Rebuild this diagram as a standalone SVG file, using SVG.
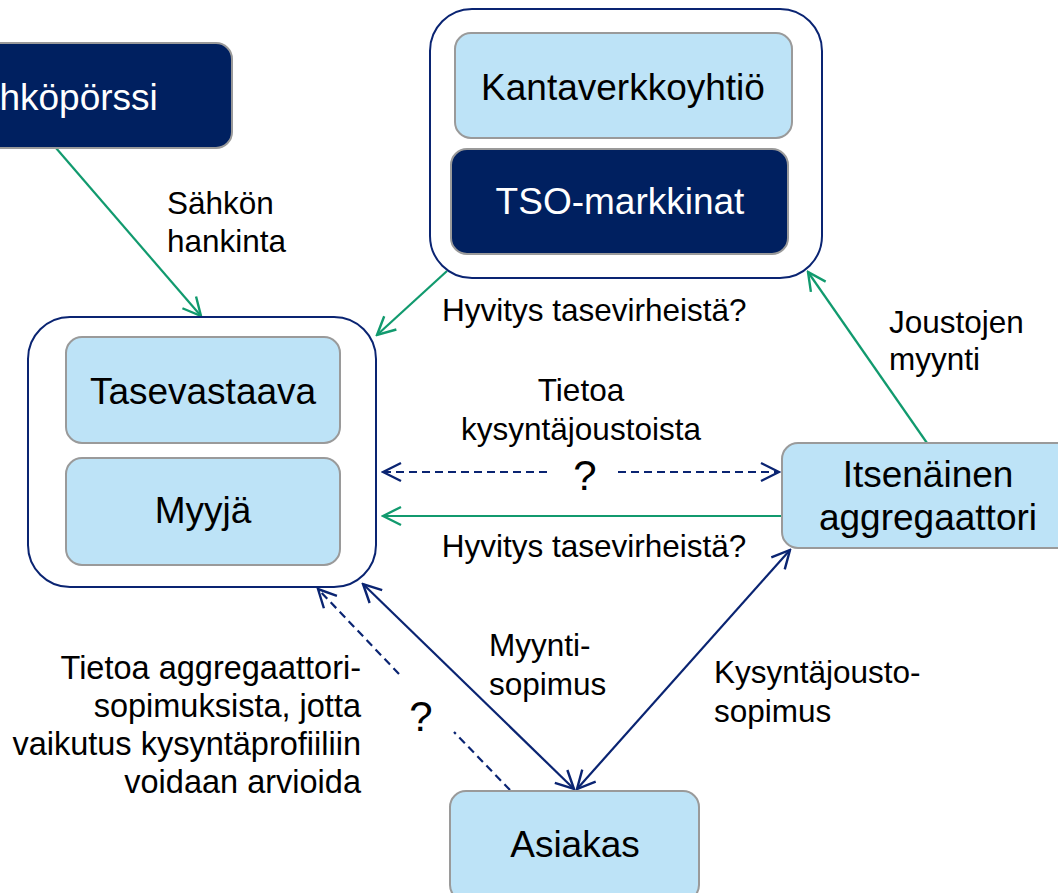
<svg xmlns="http://www.w3.org/2000/svg" width="1058" height="893" viewBox="0 0 1058 893">
<style>
.txt{font-family:"Liberation Sans",Arial,sans-serif;fill:#000}
.node{font-size:37px;text-anchor:middle}
.lbl{font-size:31.5px}
.big{font-size:32.5px;text-anchor:end}
.light{fill:#bde3f7;stroke:#9a9a9a;stroke-width:2}
.dark{fill:#002060;stroke:#9a9a9a;stroke-width:2}
.cont{fill:#fff;stroke:#0a2472;stroke-width:2}
.g{stroke:#119a6e;stroke-width:2.2;fill:none}
.n{stroke:#0a2472;stroke-width:2.2;fill:none}
.d{stroke-dasharray:8 5}
</style>
<defs>
<marker id="ag" viewBox="0 0 22 22" refX="20" refY="11" markerWidth="22" markerHeight="22" markerUnits="userSpaceOnUse" orient="auto-start-reverse">
<path d="M2,2 L20,11 L2,20" fill="none" stroke="#119a6e" stroke-width="2.4"/>
</marker>
<marker id="an" viewBox="0 0 22 22" refX="20" refY="11" markerWidth="22" markerHeight="22" markerUnits="userSpaceOnUse" orient="auto-start-reverse">
<path d="M2,2 L20,11 L2,20" fill="none" stroke="#0a2472" stroke-width="2.4"/>
</marker>
</defs>
<rect width="1058" height="893" fill="#fff"/>

<g id="connectors">
<line class="g" x1="56" y1="148" x2="201" y2="316" marker-end="url(#ag)"/>
<line class="g" x1="447" y1="271" x2="377" y2="335" marker-end="url(#ag)"/>
<line class="g" x1="927" y1="443" x2="808" y2="272" marker-end="url(#ag)"/>
<line class="n d" x1="383" y1="472" x2="552" y2="472" marker-start="url(#an)"/>
<line class="n d" x1="618" y1="472" x2="779" y2="472" marker-end="url(#an)"/>
<line class="g" x1="782" y1="516" x2="383" y2="516" marker-end="url(#ag)"/>
<line class="n" x1="363" y1="584" x2="574" y2="789" marker-start="url(#an)" marker-end="url(#an)"/>
<line class="n" x1="577" y1="789" x2="790" y2="550" marker-start="url(#an)" marker-end="url(#an)"/>
<line class="n d" x1="510" y1="790" x2="454" y2="732"/>
<line class="n d" x1="399" y1="674" x2="318" y2="589" marker-end="url(#an)"/>
</g>

<g id="n-sahkoporssi">
<rect class="dark" x="-120" y="43" width="352" height="105" rx="16"/>
<text class="txt node" x="56" y="110" style="fill:#fff">Sähköpörssi</text>
</g>

<g id="n-tso-group">
<rect class="cont" x="430" y="9" width="392" height="269" rx="42"/>
</g>
<g id="n-kantaverkkoyhtio">
<rect class="light" x="455" y="33" width="337" height="105" rx="16"/>
<text class="txt node" x="623" y="100">Kantaverkkoyhtiö</text>
</g>
<g id="n-tso-markkinat">
<rect class="dark" x="451" y="149" width="337" height="105" rx="16"/>
<text class="txt node" x="620" y="214" style="fill:#fff">TSO-markkinat</text>
</g>

<g id="n-left-group">
<rect class="cont" x="28" y="317" width="348" height="270" rx="42"/>
</g>
<g id="n-tasevastaava">
<rect class="light" x="66" y="337" width="274" height="106" rx="16"/>
<text class="txt node" x="203" y="404">Tasevastaava</text>
</g>
<g id="n-myyja">
<rect class="light" x="66" y="458" width="274" height="107" rx="16"/>
<text class="txt node" x="203" y="523">Myyjä</text>
</g>

<g id="n-aggregaattori">
<rect class="light" x="782" y="443" width="300" height="105" rx="16"/>
<text class="txt node" x="928" y="487">Itsenäinen</text>
<text class="txt node" x="928" y="530">aggregaattori</text>
</g>

<g id="n-asiakas">
<rect class="light" x="450" y="791" width="249" height="110" rx="16"/>
<text class="txt node" x="575" y="857">Asiakas</text>
</g>

<g id="labels">
<text class="txt lbl" x="167" y="214">Sähkön</text>
<text class="txt lbl" x="167" y="252">hankinta</text>
<text class="txt lbl" x="442" y="321">Hyvitys tasevirheistä?</text>
<text class="txt lbl" x="889" y="333">Joustojen</text>
<text class="txt lbl" x="889" y="370">myynti</text>
<text class="txt lbl" x="581" y="401" text-anchor="middle">Tietoa</text>
<text class="txt lbl" x="581" y="440" text-anchor="middle">kysyntäjoustoista</text>
<text class="txt" x="585" y="490" font-size="42" text-anchor="middle">?</text>
<text class="txt lbl" x="594" y="557" text-anchor="middle">Hyvitys tasevirheistä?</text>
<text class="txt lbl" x="489" y="656">Myynti-</text>
<text class="txt lbl" x="489" y="695">sopimus</text>
<text class="txt lbl" x="714" y="683">Kysyntäjousto-</text>
<text class="txt lbl" x="714" y="722">sopimus</text>
<text class="txt" x="421" y="731" font-size="42" text-anchor="middle">?</text>
<text class="txt big" x="361" y="679">Tietoa aggregaattori-</text>
<text class="txt big" x="361" y="717">sopimuksista, jotta</text>
<text class="txt big" x="361" y="755">vaikutus kysyntäprofiiliin</text>
<text class="txt big" x="361" y="793">voidaan arvioida</text>
</g>
</svg>
